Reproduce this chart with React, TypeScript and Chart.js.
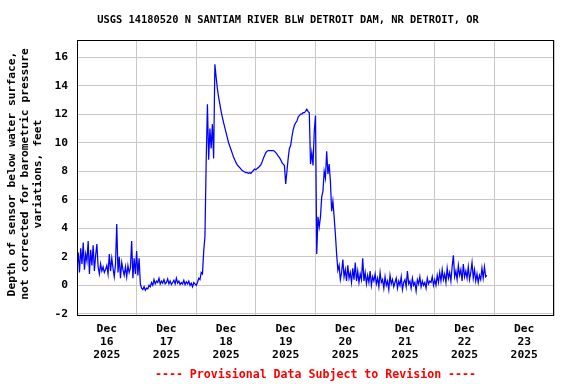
import React, { useEffect, useRef } from 'react';
import { Chart, registerables } from 'chart.js';

Chart.register(...registerables);

const TITLE = 'USGS 14180520 N SANTIAM RIVER BLW DETROIT DAM, NR DETROIT, OR';
const Y_TITLE = [
  'Depth of sensor below water surface,',
  'not corrected for barometric pressure',
  'variations, feet',
];
const FOOTER = '---- Provisional Data Subject to Revision ----';
const MONTH = 'Dec';
const YEAR = '2025';
const DAY_LABELS = ['16', '17', '18', '19', '20', '21', '22', '23'];
const Y_TICKS = [-2, 0, 2, 4, 6, 8, 10, 12, 14, 16];
const Y_MIN = -2.15;
const Y_MAX = 17.2;
const STEP_HOURS = 0.5; // sampling interval of the series below

const DEPTH_DEC16 = [
  1.2, 2.3, 0.9, 2.6, 1.5, 3.0, 1.1, 2.2, 1.7, 3.1, 0.8, 2.5, 1.4, 2.8, 1.0, 2.1,
  2.9, 1.3, 0.8, 1.5, 1.0, 1.3, 0.9, 1.1, 1.4, 0.8, 2.2, 1.0, 1.9, 1.2, 0.6, 1.5,
  4.3, 0.9, 2.0, 0.5, 1.6, 1.1, 0.7, 1.3, 0.6, 1.4, 0.9, 1.2, 3.1, 0.5, 1.9, 0.8,
];
const DEPTH_DEC17 = [
  2.4, 0.7, 1.9, 0.1, -0.2, -0.3, -0.1, -0.35, -0.2, -0.25, 0.0, -0.1, 0.2, 0.0, 0.4, 0.1,
  0.3, 0.2, 0.5, 0.1, 0.3, 0.15, 0.4, 0.1, 0.2, 0.45, 0.1, 0.3, 0.05, 0.2, 0.35, 0.1,
  0.5, 0.15, 0.3, 0.05, 0.2, 0.1, 0.35, 0.05, 0.25, 0.1, 0.3, 0.0, 0.15, -0.1, 0.2, 0.1,
];
const DEPTH_DEC18 = [
  0.0, 0.2, 0.5, 0.4, 0.9, 0.8, 2.4, 3.4, 8.7, 12.7, 8.8, 11.0, 9.6, 11.3, 8.9, 15.5,
  14.6, 13.8, 13.2, 12.7, 12.2, 11.8, 11.4, 11.05, 10.7, 10.35, 10.0, 9.75, 9.5, 9.25, 9.0, 8.8,
  8.6, 8.45, 8.35, 8.25, 8.15, 8.05, 8.0, 7.95, 7.9, 7.9, 7.85, 7.9, 7.85, 7.95, 8.05, 8.15,
];
const DEPTH_DEC19 = [
  8.1, 8.2, 8.25, 8.35, 8.45, 8.65, 8.9, 9.1, 9.3, 9.4, 9.45, 9.45, 9.45, 9.45, 9.45, 9.4,
  9.3, 9.2, 9.05, 8.95, 8.8, 8.6, 8.5, 8.4, 7.1, 8.0, 8.9, 9.6, 9.8, 10.4, 10.9, 11.2,
  11.4, 11.5, 11.8, 11.9, 12.0, 12.0, 12.1, 12.1, 12.2, 12.35, 12.2, 12.1, 8.5, 9.3, 8.4, 10.8,
];
const DEPTH_DEC20 = [
  11.9, 2.2, 4.8, 4.1, 4.8, 6.2, 6.6, 8.0, 7.5, 9.4, 7.8, 8.5, 7.3, 5.2, 5.9, 4.8,
  3.6, 2.2, 1.05, 1.4, 0.4, 0.9, 1.8, 0.6, 1.1, 0.3, 1.4, 0.5, 0.9, 0.2, 1.2, 0.4,
  1.6, 0.3, 1.0, 0.2, 0.8, 0.4, 1.9, 0.3, 0.9, 0.1, 0.7, 0.2, 1.0, 0.0, 0.6, 0.3,
];
const DEPTH_DEC21 = [
  0.8, 0.1, 0.5, -0.1, 0.9, 0.2, 0.4, -0.2, 0.6, 0.0, 0.3, -0.3, 0.7, 0.1, 0.4, -0.1,
  0.2, 0.5, -0.2, 0.3, 0.0, 0.6, -0.3, 0.2, 0.4, -0.1, 1.0, 0.1, 0.3, -0.2, 0.5, 0.0,
  0.2, -0.4, 0.4, 0.1, 0.6, -0.1, 0.3, 0.0, 0.2, -0.2, 0.5, 0.1, 0.3, 0.2, 0.6, 0.0,
];
const DEPTH_DEC22 = [
  0.4, 0.0, 0.7, 0.2, 0.9, 0.3, 1.1, 0.4, 0.8, 0.2, 1.2, 0.5, 0.9, 0.3, 1.3, 2.1,
  0.6, 1.0, 0.4, 1.4, 0.7, 1.1, 0.3, 1.5, 0.6, 1.0, 0.5, 1.3, 0.4, 0.9, 1.6, 0.5,
  1.1, 0.3, 0.8, 0.2, 0.7, 0.4, 1.2, 0.5, 1.3, 0.6, 0.7,
];

const FONT = '"DejaVu Sans Mono", "Liberation Mono", monospace';

const textPlugin = {
  id: 'usgsText',
  afterDraw(chart: any) {
    const { ctx, chartArea } = chart;
    ctx.save();
    // plot border
    ctx.strokeStyle = '#000000';
    ctx.lineWidth = 1;
    ctx.strokeRect(chartArea.left + 0.5, chartArea.top + 0.5, chartArea.right - chartArea.left - 1, chartArea.bottom - chartArea.top - 1);
    // title
    ctx.fillStyle = '#000000';
    ctx.textAlign = 'center';
    ctx.textBaseline = 'middle';
    ctx.font = `bold 10.4px ${FONT}`;
    ctx.fillText(TITLE, 288, 20.5);
    // footer
    ctx.fillStyle = '#ff0000';
    ctx.font = `bold 11.6px ${FONT}`;
    ctx.fillText(FOOTER, (chartArea.left + chartArea.right) / 2, 375);
    // y title
    ctx.fillStyle = '#000000';
    ctx.font = `bold 11.3px ${FONT}`;
    const xs = [11.7, 25, 38.3];
    Y_TITLE.forEach((line, i) => {
      ctx.save();
      ctx.translate(xs[i], 174);
      ctx.rotate(-Math.PI / 2);
      ctx.fillText(line, 0, 0);
      ctx.restore();
    });
    ctx.restore();
  },
};

export default function App() {
  const ref = useRef<HTMLCanvasElement | null>(null);
  useEffect(() => {
    document.body.style.margin = '0';
    const series = [
      ...DEPTH_DEC16, ...DEPTH_DEC17, ...DEPTH_DEC18, ...DEPTH_DEC19,
      ...DEPTH_DEC20, ...DEPTH_DEC21, ...DEPTH_DEC22,
    ];
    const points = series.map((v, i) => ({ x: i * STEP_HOURS, y: v }));
    const labelHours = DAY_LABELS.map((_, i) => i * 24 + 12);
    const chart = new Chart(ref.current as HTMLCanvasElement, {
      type: 'line',
      data: {
        datasets: [
          {
            data: points,
            borderColor: '#0000ff',
            borderWidth: 1.25,
            pointRadius: 0,
            tension: 0,
            fill: false,
          },
        ],
      },
      options: {
        animation: false,
        responsive: false,
        layout: { padding: { top: 40, right: 22, left: 0, bottom: 0 } },
        plugins: { legend: { display: false }, tooltip: { enabled: false }, title: { display: false } },
        scales: {
          x: {
            type: 'linear',
            min: 0,
            max: DAY_LABELS.length * 24,
            afterBuildTicks: (scale: any) => {
              scale.ticks = labelHours.map((v) => ({ value: v }));
            },
            afterFit: (scale: any) => {
              scale.height = 68;
            },
            grid: { offset: true, color: '#c8c8c8', lineWidth: 1, drawTicks: false },
            border: { display: false },
            ticks: {
              autoSkip: false,
              maxRotation: 0,
              padding: 7,
              color: '#000000',
              font: { family: FONT, size: 11.3, weight: 'bold', lineHeight: 1.13 },
              callback: (_v: any, i: number) => [MONTH, DAY_LABELS[i], YEAR],
            },
          },
          y: {
            type: 'linear',
            min: Y_MIN,
            max: Y_MAX,
            afterBuildTicks: (scale: any) => {
              scale.ticks = Y_TICKS.map((v) => ({ value: v }));
            },
            afterFit: (scale: any) => {
              scale.width = 77;
            },
            grid: { color: '#c8c8c8', lineWidth: 1, drawTicks: false },
            border: { display: false },
            ticks: {
              padding: 9,
              color: '#000000',
              font: { family: FONT, size: 11.3, weight: 'bold' },
              callback: (v: any) => String(v),
            },
          },
        },
      },
      plugins: [textPlugin],
    } as any);
    return () => chart.destroy();
  }, []);
  return (
    <div style={{ position: 'fixed', left: 0, top: 0, width: 576, height: 384, background: '#ffffff' }}>
      <canvas ref={ref} width={576} height={384} style={{ width: 576, height: 384 }} />
    </div>
  );
}
